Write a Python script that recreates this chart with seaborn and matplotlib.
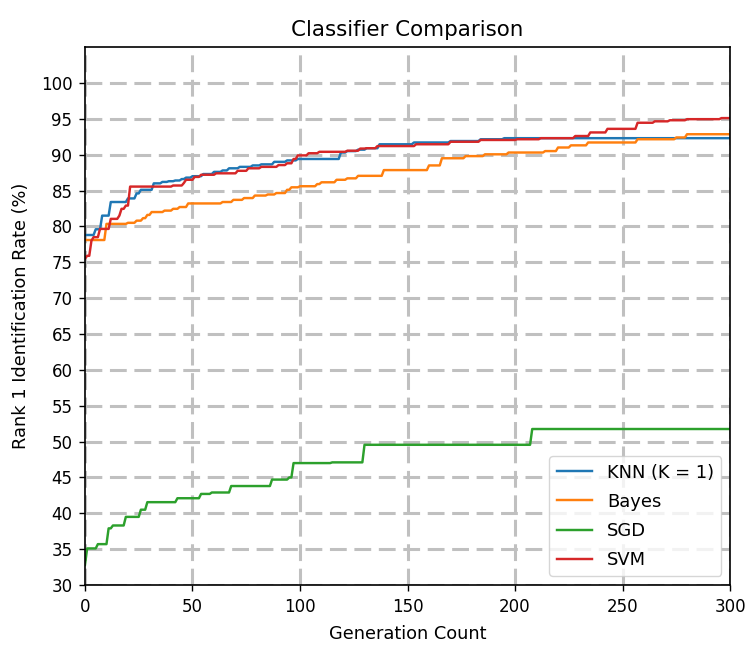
import numpy as np
import pandas as pd
import matplotlib
matplotlib.use('Agg')
import matplotlib.pyplot as plt
import seaborn as sns

# best rank-1 rate so far, stored only where it changes
generations = np.arange(0, 301)

knn_gen = [0, 5, 8, 12, 20, 24, 26, 32, 36, 39, 42, 45, 47, 50, 55, 60, 64, 67, 72,
           78, 82, 88, 94, 99, 119, 122, 127, 131, 137, 153, 170, 184, 195]
knn_rate = [78.8, 79.6, 81.5, 83.4, 83.9, 84.6, 85.1, 86.0, 86.2, 86.3, 86.4, 86.6, 86.8,
            87.0, 87.3, 87.6, 87.8, 88.1, 88.3, 88.5, 88.65, 89.0, 89.2, 89.4, 90.3, 90.5,
            90.7, 90.9, 91.45, 91.7, 91.9, 92.15, 92.3]

bayes_gen = [0, 10, 20, 24, 27, 29, 31, 37, 41, 44, 48, 64, 69, 74, 79, 85, 89, 94, 96,
             100, 108, 110, 117, 122, 127, 139, 160, 166, 177, 186, 197, 214, 220, 226,
             234, 257, 275, 280]
bayes_rate = [78.1, 80.35, 80.5, 80.8, 81.15, 81.6, 82.0, 82.2, 82.45, 82.7, 83.2, 83.4,
              83.7, 83.95, 84.3, 84.45, 84.65, 85.1, 85.45, 85.6, 85.9, 86.15, 86.5, 86.7,
              87.05, 87.85, 88.5, 89.5, 89.8, 90.05, 90.3, 90.5, 91.0, 91.3, 91.7, 92.15,
              92.4, 92.85]

sgd_gen = [0, 1, 6, 11, 13, 19, 26, 29, 43, 54, 59, 68, 87, 95, 97, 115, 130, 208]
sgd_rate = [32.8, 35.1, 35.7, 37.9, 38.3, 39.5, 40.5, 41.55, 42.1, 42.7, 42.9, 43.8,
            44.7, 45.0, 47.0, 47.1, 49.55, 51.75]

svm_gen = [0, 1, 3, 4, 7, 12, 16, 17, 19, 21, 41, 46, 47, 51, 54, 61, 71, 76, 82, 90,
           94, 97, 99, 104, 109, 122, 128, 131, 136, 154, 170, 184, 201, 212, 228, 235,
           243, 257, 265, 272, 280, 296]
svm_rate = [75.5, 75.9, 78.0, 78.5, 79.65, 81.05, 81.5, 82.45, 82.9, 85.55, 85.7, 86.05,
            86.5, 86.9, 87.2, 87.4, 87.75, 88.1, 88.3, 88.55, 88.8, 89.4, 89.9, 90.2, 90.4,
            90.55, 90.85, 90.9, 91.2, 91.45, 91.8, 92.05, 92.15, 92.3, 92.6, 93.1, 93.6,
            94.45, 94.65, 94.8, 94.95, 95.1]

classifiers = ['KNN (K = 1)', 'Bayes', 'SGD', 'SVM']
colors = ['#1f77b4', '#ff7f0e', '#2ca02c', '#d62728']


def expand(gens, rates):
    # carry each value forward until the next change
    return pd.Series(rates, index=gens).reindex(generations).ffill().values


frames = []
for name, g, r in zip(classifiers,
                      [knn_gen, bayes_gen, sgd_gen, svm_gen],
                      [knn_rate, bayes_rate, sgd_rate, svm_rate]):
    frames.append(pd.DataFrame({'Generation': generations,
                                'Rate': expand(g, r),
                                'Classifier': name}))
df = pd.concat(frames, ignore_index=True)

fig = plt.figure(figsize=(7.48, 6.45), dpi=100)
ax = fig.add_axes([0.1136, 0.093, 0.976 - 0.1136, 0.927 - 0.093])

sns.lineplot(data=df, x='Generation', y='Rate', hue='Classifier',
             hue_order=classifiers, palette=colors, estimator=None,
             linewidth=1.75, ax=ax)

ax.set_xlim(0, 300)
ax.set_ylim(30, 105)
ax.set_yticks(np.arange(30, 101, 5))
ax.set_xticks(np.arange(0, 301, 50))
ax.grid(True, color='#c0c0c0', linewidth=2.2, linestyle=(0, (5.5, 2.5)))
ax.set_axisbelow(True)

ax.set_title('Classifier Comparison', fontsize=15.4, pad=8)
ax.set_xlabel('Generation Count', fontsize=12.8, labelpad=7)
ax.set_ylabel('Rank 1 Identification Rate (%)', fontsize=12.8, labelpad=8)
ax.tick_params(labelsize=12, length=4.5, width=1.0, pad=4.5)
for sp in ax.spines.values():
    sp.set_linewidth(1.2)

sns.move_legend(ax, 'lower right', title=None, fontsize=12.9, frameon=True,
                labelspacing=0.62)

fig.savefig('out.png', dpi=100)
